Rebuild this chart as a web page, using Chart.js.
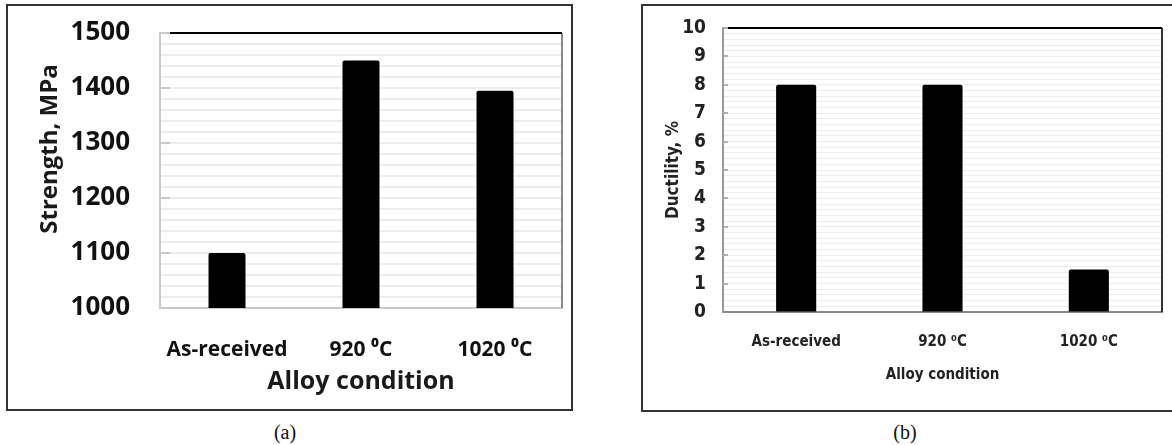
<!DOCTYPE html>
<html>
<head>
<meta charset="utf-8">
<script src="https://cdn.jsdelivr.net/npm/chart.js@4.4.0/dist/chart.umd.min.js"></script>
<style>
  body { margin: 0; background: #fff; width: 1172px; height: 445px; overflow: hidden; position: relative; }
  .frame { position: absolute; box-sizing: border-box; border: 2px solid #333; pointer-events: none; }
  .cap { position: absolute; font-family: "Liberation Serif", serif; font-size: 20px; color: #111; transform: translate(-50%, -50%); }
  .ytitle { position: absolute; font-family: "Open Sans", sans-serif; font-weight: bold; font-size: 24px; color: #1a1a1a;
            transform: translate(-50%, -50%) rotate(-90deg); white-space: nowrap; }
  canvas { position: absolute; }
</style>
</head>
<body>
<div id="boxA" style="position:absolute; left:9px; top:7px; width:560px; height:400px;"><canvas id="chartA"></canvas></div>
<div id="boxB" style="position:absolute; left:645px; top:7px; width:528px; height:402px;"><canvas id="chartB"></canvas></div>
<div class="frame" style="left:6px; top:4px; width:567px; height:407px;"></div>
<div class="frame" style="left:641px; top:4px; width:540px; height:408px;"></div>
<div class="ytitle" style="left:47px; top:149px;">Strength, MPa</div>
<div class="cap" style="left:285px; top:432px;">(a)</div>
<div class="cap" style="left:905px; top:432px;">(b)</div>
<script>
const conditions = ['As-received', '920 \u2070C', '1020 \u2070C'];
const strength = [1100, 1450, 1395];
const ductility = [8, 8, 1.5];
const strengthTicks = [1000, 1100, 1200, 1300, 1400, 1500];
const ductilityTicks = [0, 1, 2, 3, 4, 5, 6, 7, 8, 9, 10];

const narrow = "'DejaVu Sans Condensed', 'Liberation Sans Narrow', Roboto, sans-serif";

// y axis: fixed width, and no extra top/bottom room for the labels
const fixY = w => s => { s.width = w; s.paddingTop = 0; s.paddingBottom = 0; };

// plot frame + short inside tick marks, like the original spreadsheet plot
const frameLines = {
  id: 'frameLines',
  afterDraw(chart, args, opts) {
    const { ctx, chartArea: a, scales } = chart;
    ctx.save();
    ctx.lineWidth = opts.sideWidth;
    ctx.strokeStyle = opts.rightColor;
    ctx.beginPath();
    ctx.moveTo(a.right, a.top);
    ctx.lineTo(a.right, a.bottom);
    ctx.stroke();
    ctx.strokeStyle = opts.tickColor;
    ctx.lineWidth = 2;
    opts.majors.forEach(v => {
      const y = Math.round(scales.y.getPixelForValue(v));
      ctx.beginPath();
      ctx.moveTo(a.left, y);
      ctx.lineTo(a.left + opts.tickLen, y);
      ctx.stroke();
    });
    ctx.strokeStyle = '#000';
    ctx.lineWidth = 2;
    ctx.beginPath();
    ctx.moveTo(a.left + opts.topStart, a.top);
    ctx.lineTo(a.right, a.top);
    ctx.stroke();
    ctx.restore();
  }
};

new Chart(document.getElementById('chartA'), {
  type: 'bar',
  data: {
    labels: conditions,
    datasets: [{
      data: strength,
      backgroundColor: '#000',
      borderRadius: 2,
      borderSkipped: 'bottom',
      barPercentage: 0.276,
      categoryPercentage: 1
    }]
  },
  options: {
    responsive: true,
    maintainAspectRatio: false,
    animation: false,
    layout: { padding: { top: 26, right: 7, left: 0, bottom: 0 } },
    plugins: {
      legend: { display: false },
      tooltip: { enabled: false },
      frameLines: { majors: strengthTicks, tickColor: '#c8c8c8', tickLen: 10, topStart: 10, rightColor: '#888', sideWidth: 2 }
    },
    scales: {
      x: {
        afterFit: s => { s.height = 99; },
        grid: { display: false, drawTicks: false },
        border: { color: '#c8c8c8', width: 2 },
        ticks: { color: '#111', padding: 29, font: { family: 'Open Sans', weight: 'bold', size: 21 } },
        title: { display: true, text: 'Alloy condition', color: '#1a1a1a', padding: { top: 0, bottom: 10 },
                 font: { family: 'Open Sans', weight: 'bold', size: 25 } }
      },
      y: {
        min: 1000,
        max: 1500,
        afterFit: fixY(151),
        grid: { color: '#ececec', lineWidth: 2, drawTicks: false },
        border: { color: '#c8c8c8', width: 2 },
        ticks: {
          stepSize: 20,
          autoSkip: false,
          padding: 30,
          color: '#111',
          font: { family: 'Open Sans', weight: 'bold', size: 26 },
          callback: v => strengthTicks.includes(v) ? v : ''
        }
      }
    }
  },
  plugins: [frameLines]
});

new Chart(document.getElementById('chartB'), {
  type: 'bar',
  data: {
    labels: conditions,
    datasets: [{
      data: ductility,
      backgroundColor: '#000',
      borderRadius: 2,
      borderSkipped: 'bottom',
      barPercentage: 0.274,
      categoryPercentage: 1
    }]
  },
  options: {
    responsive: true,
    maintainAspectRatio: false,
    animation: false,
    layout: { padding: { top: 21, right: 11, left: 0, bottom: 0 } },
    plugins: {
      legend: { display: false },
      tooltip: { enabled: false },
      frameLines: { majors: ductilityTicks.slice(1), tickColor: '#b0b0b0', tickLen: 5, topStart: 5, rightColor: '#333', sideWidth: 2 }
    },
    scales: {
      x: {
        afterFit: s => { s.height = 97; },
        grid: { display: false, drawTicks: false },
        border: { color: '#888', width: 2 },
        ticks: { color: '#222', padding: 21, font: { family: narrow, weight: 'bold', size: 15 } },
        title: { display: true, text: 'Alloy condition', color: '#222', padding: { top: 0, bottom: 25 },
                 font: { family: narrow, weight: 'bold', size: 15 } }
      },
      y: {
        min: 0,
        max: 10,
        afterFit: fixY(78),
        grid: { color: '#ededed', lineWidth: 1, drawTicks: false },
        border: { color: '#999', width: 2 },
        ticks: {
          stepSize: 0.2,
          autoSkip: false,
          padding: 17,
          color: '#222',
          font: { family: narrow, weight: 'bold', size: 19 },
          callback: v => ductilityTicks.includes(Math.round(v * 100) / 100) ? Math.round(v) : ''
        },
        title: { display: true, text: 'Ductility, %', color: '#222', padding: { top: 18, bottom: 0 },
                 font: { family: narrow, weight: 'bold', size: 17 } }
      }
    }
  },
  plugins: [frameLines]
});
</script>
</body>
</html>
